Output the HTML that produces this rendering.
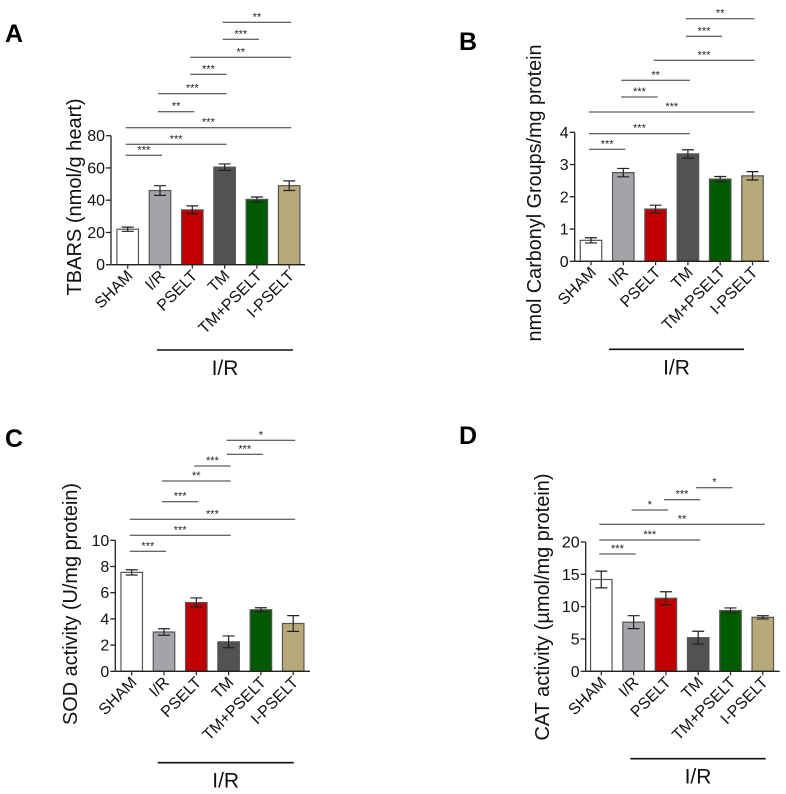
<!DOCTYPE html>
<html><head><meta charset="utf-8"><style>
html,body{margin:0;padding:0;background:#fff;}
svg{display:block;font-family:"Liberation Sans",Arial,sans-serif;}
</style></head><body>
<svg id="fig" width="786" height="794" viewBox="0 0 786 794"></svg>
<script>
const categories = ["SHAM","I/R","PSELT","TM","TM+PSELT","I-PSELT"];
const barColors = ["#ffffff","#a3a4a8","#c00000","#525252","#005a00","#b8aa78"];

const tbarsValues = [22, 46, 34, 60.5, 40.5, 49];
const tbarsErrors = [1.3, 3, 2.5, 2, 1.5, 3];
const tbarsTicks = [0, 20, 40, 60, 80];

const carbonylValues = [0.65, 2.75, 1.62, 3.33, 2.55, 2.65];
const carbonylErrors = [0.08, 0.13, 0.12, 0.13, 0.08, 0.13];
const carbonylTicks = [0, 1, 2, 3, 4];

const sodValues = [7.55, 3.0, 5.25, 2.25, 4.7, 3.65];
const sodErrors = [0.2, 0.25, 0.35, 0.45, 0.15, 0.6];
const sodTicks = [0, 2, 4, 6, 8, 10];

const catValues = [14.2, 7.6, 11.3, 5.2, 9.4, 8.35];
const catErrors = [1.3, 1.0, 1.0, 1.0, 0.4, 0.25];
const catTicks = [0, 5, 10, 15, 20];

// brackets: [fromIndex, toIndex, label]
const tbarsSig = [[0,1,"***"],[0,3,"***"],[0,5,"***"],[1,2,"**"],[1,3,"***"],[2,3,"***"],[2,5,"**"],[3,4,"***"],[3,5,"**"]];
const carbonylSig = [[0,1,"***"],[0,3,"***"],[0,5,"***"],[1,2,"***"],[1,3,"**"],[2,5,"***"],[3,4,"***"],[3,5,"**"]];
const sodSig = [[0,1,"***"],[0,3,"***"],[0,5,"***"],[1,2,"***"],[1,3,"**"],[2,3,"***"],[3,4,"***"],[3,5,"*"]];
const catSig = [[0,1,"***"],[0,3,"***"],[0,5,"**"],[1,2,"*"],[2,3,"***"],[3,4,"*"]];

const NS = "http://www.w3.org/2000/svg";
const fig = document.getElementById("fig");
function mk(tag, attrs, parent){
  const e = document.createElementNS(NS, tag);
  for (const k in attrs) e.setAttribute(k, attrs[k]);
  (parent||fig).appendChild(e);
  return e;
}

function panel(cfg){
  const g = mk("g", {});
  
  
  const x0 = cfg.axisX, y0 = cfg.axisY, step = cfg.step, first = cfg.firstX;
  const ymax = cfg.ticks[cfg.ticks.length-1];
  const yScale = v => y0 - v / ymax * cfg.plotH;
  const xScale = i => first + i * step;
  const bw = 21.5;

  const letter = mk("text", {x: cfg.letterX, y: cfg.letterY, "font-size": 25, "font-weight": "bold", fill: "#000"}, g);
  letter.textContent = cfg.letter;
  
  

  // bars
  cfg.values.forEach((v, i) => {
    const cx = xScale(i);
    const r = mk("rect", {x: cx - bw/2, y: yScale(v), width: bw, height: y0 - yScale(v), fill: barColors[i], stroke: "#555", "stroke-width": 1.2}, g);
    
    
    const e = cfg.errors[i];
    const eb = mk("path", {d: `M${cx},${yScale(v+e)}V${yScale(v-e)}M${cx-6},${yScale(v+e)}H${cx+6}M${cx-6},${yScale(v-e)}H${cx+6}`, stroke: "#222", "stroke-width": 1.2, fill: "none"}, g);
    
    
  });

  // axes
  const ya = mk("line", {x1: x0, y1: y0, x2: x0, y2: yScale(ymax), stroke: "#222", "stroke-width": 1.3}, g);
  
  
  const xa = mk("line", {x1: x0, y1: y0, x2: cfg.axisEnd, y2: y0, stroke: "#222", "stroke-width": 1.3}, g);
  
  

  cfg.ticks.forEach(t => {
    const y = yScale(t);
    mk("line", {x1: x0-5, y1: y, x2: x0, y2: y, stroke: "#222", "stroke-width": 1.3}, g);
    const tl = mk("text", {x: x0-6, y: y+5.5, "font-size": 16, "text-anchor": "end", fill: "#111"}, g);
    tl.textContent = t;
    
    
  });

  categories.forEach((c, i) => {
    const cx = xScale(i);
    mk("line", {x1: cx, y1: y0, x2: cx, y2: y0+4, stroke: "#222", "stroke-width": 1.2}, g);
    const tx = cx + 6, ty = y0 + 12;
    const tl = mk("text", {x: tx, y: ty, "font-size": 16, "text-anchor": "end", fill: "#111", transform: `rotate(-45 ${tx} ${ty})`}, g);
    tl.textContent = c;
    
    
  });

  const yl = mk("text", {x: 0, y: 0, "font-size": 20, "text-anchor": "middle", fill: "#111", textLength: cfg.ylabelLen, lengthAdjust: "spacingAndGlyphs", transform: `translate(${cfg.ylabelX} ${cfg.ylabelY}) rotate(-90)`}, g);
  yl.textContent = cfg.ylabel;
  
  

  // significance brackets
  cfg.sig.forEach((s, k) => {
    const y = cfg.sigY[k];
    const xa1 = xScale(s[0]) - 2, xa2 = xScale(s[1]) + 2;
    const ln = mk("line", {x1: xa1, y1: y, x2: xa2, y2: y, stroke: "#333", "stroke-width": 1}, g);
    
    
    const st = mk("text", {x: (xa1+xa2)/2, y: y - 2, "font-size": 11, "text-anchor": "middle", fill: "#222"}, g);
    st.textContent = s[2];
    
    
  });

  const gl = mk("line", {x1: cfg.grpX1, y1: cfg.grpY, x2: cfg.grpX2, y2: cfg.grpY, stroke: "#111", "stroke-width": 1.6}, g);
  
  
  const gt = mk("text", {x: (cfg.grpX1+cfg.grpX2)/2, y: cfg.grpY + 25, "font-size": 21, "text-anchor": "middle", fill: "#111"}, g);
  gt.textContent = "I/R";
  
  
}

panel({name:"panel-a-tbars", letter:"A", letterX:5, letterY:42, values:tbarsValues, errors:tbarsErrors, ticks:tbarsTicks,
  axisX:111, axisY:264.7, plotH:129, axisEnd:305, firstX:127.7, step:32.3,
  ylabel:"TBARS (nmol/g heart)", ylabelX:81, ylabelY:197, ylabelLen:197,
  sig:tbarsSig, sigY:[155.3,144.3,127.7,111.7,93.7,74.3,57.3,39.3,22.3],
  grpX1:157, grpX2:293, grpY:350});

panel({name:"panel-b-carbonyl", letter:"B", letterX:459, letterY:50, values:carbonylValues, errors:carbonylErrors, ticks:carbonylTicks,
  axisX:574.7, axisY:261.3, plotH:129, axisEnd:769, firstX:591, step:32.3,
  ylabel:"nmol Carbonyl Groups/mg protein", ylabelX:541, ylabelY:193, ylabelLen:297,
  sig:carbonylSig, sigY:[149.3,133.7,112,97,80.3,60.3,36.3,18.7],
  grpX1:609, grpX2:744, grpY:349.3});

panel({name:"panel-c-sod", letter:"C", letterX:5, letterY:447, values:sodValues, errors:sodErrors, ticks:sodTicks,
  axisX:115.3, axisY:671.3, plotH:131, axisEnd:310, firstX:131.7, step:32.3,
  ylabel:"SOD activity (U/mg protein)", ylabelX:77, ylabelY:604, ylabelLen:242,
  sig:sodSig, sigY:[551.3,535.3,519.3,501.7,481,466,454.3,440.3],
  grpX1:157.7, grpX2:293.7, grpY:762.7});

panel({name:"panel-d-cat", letter:"D", letterX:459, letterY:444, values:catValues, errors:catErrors, ticks:catTicks,
  axisX:585.7, axisY:671.3, plotH:129.3, axisEnd:779.7, firstX:601.3, step:32.3,
  ylabel:"CAT activity (µmol/mg protein)", ylabelX:549, ylabelY:607, ylabelLen:267,
  sig:catSig, sigY:[554,540,524.3,510,499.7,487.7],
  grpX1:630.3, grpX2:765.7, grpY:758.7});
</script>
</body></html>
